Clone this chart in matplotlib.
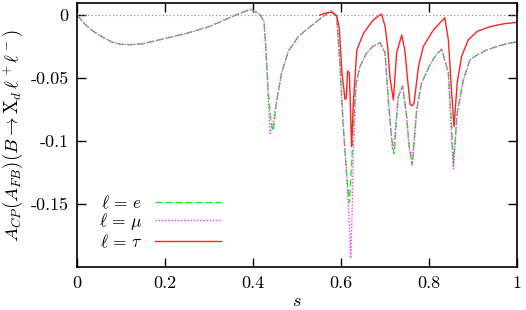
import matplotlib
matplotlib.use('Agg')
import matplotlib.pyplot as plt

# values
s_e = [0, 0.01, 0.02, 0.037, 0.06, 0.08, 0.10, 0.12, 0.15, 0.19, 0.25, 0.30, 0.348, 0.375,
       0.395, 0.416, 0.425, 0.4295, 0.435, 0.441, 0.446, 0.454, 0.465, 0.48, 0.503, 0.52,
       0.54, 0.56, 0.578, 0.590, 0.598, 0.605, 0.613, 0.619, 0.624, 0.628, 0.634, 0.643,
       0.658, 0.672, 0.689, 0.700, 0.7076, 0.715, 0.721, 0.730, 0.740, 0.749, 0.755, 0.762,
       0.772, 0.783, 0.802, 0.815, 0.829, 0.844, 0.8515, 0.8555, 0.864, 0.878, 0.893, 0.908,
       0.93, 0.954, 0.975, 1.0]
a_e = [0, -0.004, -0.008, -0.013, -0.018, -0.0215, -0.0233, -0.0236, -0.0228, -0.0195, -0.0145,
       -0.0093, -0.002, 0.002, 0.0045, 0.0005, -0.0053, -0.028, -0.062, -0.086, -0.092, -0.0675,
       -0.046, -0.029, -0.0172, -0.012, -0.0065, -0.001, 0.0034, -0.0013, -0.041, -0.0886, -0.128,
       -0.149, -0.12, -0.0886, -0.0544, -0.041, -0.0304, -0.025, -0.022, -0.030, -0.0675, -0.098,
       -0.110, -0.065, -0.0563, -0.080, -0.105, -0.119, -0.0754, -0.054, -0.0397, -0.032, -0.0272,
       -0.046, -0.0886, -0.118, -0.078, -0.0516, -0.0357, -0.032, -0.028, -0.025, -0.023, -0.0212]

s_mu = [0, 0.01, 0.02, 0.037, 0.06, 0.08, 0.10, 0.12, 0.15, 0.19, 0.25, 0.30, 0.348, 0.375,
        0.395, 0.416, 0.425, 0.4295, 0.435, 0.439, 0.446, 0.454, 0.465, 0.48, 0.503, 0.52,
        0.54, 0.56, 0.578, 0.590, 0.598, 0.605, 0.612, 0.618, 0.622, 0.625, 0.628, 0.634, 0.643,
        0.658, 0.672, 0.689, 0.700, 0.7076, 0.717, 0.721, 0.730, 0.740, 0.749, 0.755, 0.762,
        0.772, 0.783, 0.802, 0.815, 0.829, 0.844, 0.8515, 0.8555, 0.864, 0.878, 0.893, 0.908,
        0.93, 0.954, 0.975, 1.0]
a_mu = [0, -0.004, -0.008, -0.013, -0.018, -0.0215, -0.0233, -0.0236, -0.0228, -0.0195, -0.0145,
        -0.0093, -0.002, 0.002, 0.0045, 0.0005, -0.0053, -0.028, -0.07, -0.094, -0.085, -0.0675,
        -0.046, -0.029, -0.0172, -0.012, -0.0065, -0.001, 0.0034, -0.0013, -0.041, -0.086, -0.12,
        -0.16, -0.193, -0.16, -0.11, -0.056, -0.041, -0.0304, -0.025, -0.022, -0.030, -0.0675,
        -0.107, -0.100, -0.065, -0.0563, -0.080, -0.105, -0.118, -0.0754, -0.054, -0.0397, -0.032,
        -0.0272, -0.046, -0.100, -0.122, -0.078, -0.0516, -0.0357, -0.032, -0.028, -0.025, -0.023,
        -0.0212]

s_tau = [0.552, 0.565, 0.578, 0.590, 0.596, 0.602, 0.609, 0.612, 0.615, 0.619, 0.624, 0.628,
         0.636, 0.651, 0.673, 0.692, 0.700, 0.706, 0.711, 0.719, 0.7265, 0.738, 0.745, 0.751,
         0.757, 0.762, 0.766, 0.776, 0.787, 0.81, 0.836, 0.844, 0.8515, 0.857, 0.864, 0.874,
         0.889, 0.91, 0.9386, 0.97, 1.0]
a_tau = [0.0, 0.0015, 0.0022, -0.0005, -0.01, -0.045, -0.067, -0.066, -0.0445, -0.046, -0.1045,
         -0.07, -0.0278, -0.0146, -0.004, 0.0008, -0.0087, -0.025, -0.049, -0.0675, -0.030,
         -0.0159, -0.0278, -0.05, -0.071, -0.072, -0.07, -0.041, -0.025, -0.0119, -0.0021,
         -0.0198, -0.062, -0.0886, -0.054, -0.033, -0.0198, -0.013, -0.0093, -0.007, -0.0058]

xticks = [0, 0.2, 0.4, 0.6, 0.8, 1.0]
xlabels = ['0', '0.2', '0.4', '0.6', '0.8', '1']
yticks = [0, -0.05, -0.1, -0.15]
ylabels = ['0', '-0.05', '-0.1', '-0.15']

plt.rcParams['font.family'] = ['cmr10', 'DejaVu Serif']
plt.rcParams['mathtext.fontset'] = 'cm'
plt.rcParams['axes.unicode_minus'] = False

fig = plt.figure(figsize=(5.26, 3.1), dpi=100)
ax = fig.add_axes([77 / 526, 43 / 310, 440 / 526, 264 / 310])

ax.plot([0, 1], [0, 0], color='#888888', lw=0.8, linestyle=(0, (1, 2.2)))
ax.plot(s_e, a_e, color='#22ee22', lw=1.0, linestyle=(0, (5, 2.2)), label=r'$\ell\,=\,e$')
ax.plot(s_mu, a_mu, color='#ff33ff', lw=1.0, linestyle=(0, (1, 1.3)), label=r'$\ell\,=\,\mu$')
ax.plot(s_tau, a_tau, color='#ff2222', lw=1.0, label=r'$\ell\,=\,\tau$')

ax.set_xlim(0, 1)
ax.set_ylim(-0.2, 0.0095)
ax.set_xticks(xticks)
ax.set_xticklabels(xlabels)
ax.set_yticks(yticks)
ax.set_yticklabels(ylabels)
ax.tick_params(direction='in', length=6.5, width=1.0, top=True, right=True,
               labelsize=13, pad=6)
for sp in ax.spines.values():
    sp.set_linewidth(1.2)

ax.set_xlabel(r'$s$', fontsize=13, labelpad=2)
ax.set_ylabel(r'$A_{CP}(A_{FB})(B \rightarrow \mathrm{X}_d\,\ell^+\ell^-)$', fontsize=13.5, labelpad=4)

ax.legend(loc='upper left', bbox_to_anchor=(0.03, 0.31), frameon=False, markerfirst=False,
          fontsize=12.5, handlelength=3.8, handletextpad=0.7, labelspacing=0.0, borderpad=0)

fig.savefig('out.png', dpi=100)
